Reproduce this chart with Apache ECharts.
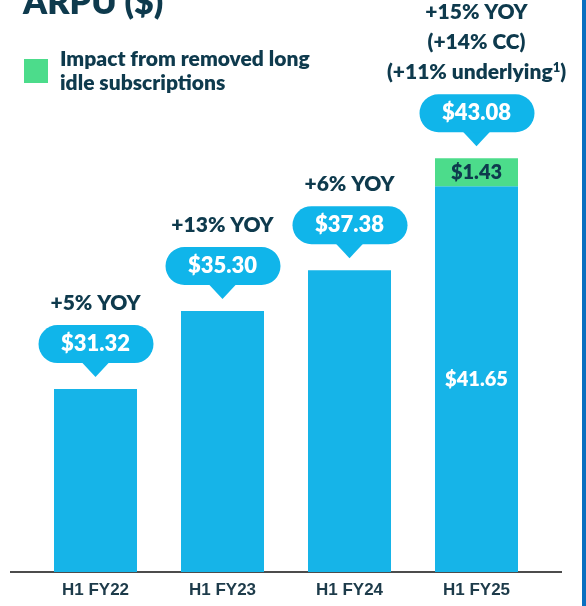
<!DOCTYPE html>
<html>
<head>
<meta charset="utf-8">
<script src="https://cdn.jsdelivr.net/npm/echarts@6/dist/echarts.min.js"></script>
<style>
  html, body { margin: 0; padding: 0; background: #fff; }
  #chart { width: 586px; height: 606px; }
</style>
</head>
<body>
<div id="chart"></div>
<script>
// data
var categories = ['H1 FY22', 'H1 FY23', 'H1 FY24', 'H1 FY25'];
var baseArpu = [31.32, 35.30, 37.38, 41.65];
var idleImpact = [null, null, null, 1.43];
var totalArpu = [31.32, 35.30, 37.38, 43.08];
var yoyLines = [
  ['+5% YOY'],
  ['+13% YOY'],
  ['+6% YOY'],
  ['+15% YOY', '(+14% CC)', '(+11% underlying{sup|1})']
];

var navy = '#0e3a4d';
var blue = '#16b4e8';
var bubble = '#10b5ea';
var green = '#4cdc8b';
var font = 'Lato';
var heavy = 800;

//callout bubble + yoy text above each bar
function renderCallout(params, api) {
  var i = api.value(0);
  var val = api.value(1);
  var p = api.coord([i, val]);
  var x = p[0], y = p[1];
  var kids = [
    { type: 'polygon', shape: { points: [[x - 14, y - 27], [x + 14, y - 27], [x, y - 12]] }, style: { fill: bubble } },
    { type: 'rect', shape: { x: x - 57, y: y - 64, width: 115, height: 38, r: 19 }, style: { fill: bubble } },
    { type: 'text', style: { x: x, y: y - 45, text: '$' + val.toFixed(2), align: 'center', verticalAlign: 'middle',
        fill: '#fff', font: heavy + ' 22px ' + font } }
  ];
  var lines = yoyLines[i];
  for (var k = 0; k < lines.length; k++) {
    kids.push({ type: 'text', style: {
      x: x, y: y - 86 - 30 * (lines.length - 1 - k), text: lines[k], align: 'center', verticalAlign: 'middle',
      fill: navy, font: heavy + ' 21px ' + font,
      rich: { sup: { fontSize: 13, fontWeight: heavy, fontFamily: font, fill: navy, verticalAlign: 'top', padding: [0, 0, 8, 0] } }
    } });
  }
  return { type: 'group', children: kids };
}

var chart = echarts.init(document.getElementById('chart'));
chart.setOption({
  animation: false,
  title: {
    text: 'ARPU ($)', left: 18, top: -19,
    textStyle: { fontFamily: font, fontWeight: heavy, fontSize: 34, color: navy }
  },
  legend: {
    data: ['Impact from removed long\nidle subscriptions'],
    left: 19, top: 42, icon: 'rect', itemWidth: 24, itemHeight: 24, itemGap: 12,
    textStyle: { fontFamily: font, fontWeight: heavy, fontSize: 21, color: navy, lineHeight: 24, padding: [0, 0, 0, 7] }
  },
  grid: { left: 32, right: 46, top: 101, bottom: 34 },
  xAxis: {
    type: 'category', data: categories,
    axisLine: { show: false }, axisTick: { show: false },
    axisLabel: { fontFamily: 'Liberation Sans', fontWeight: 'bold', fontSize: 17, color: '#1d3b4a', margin: 10 }
  },
  yAxis: { type: 'value', min: 22, max: 46, show: false, splitLine: { show: false } },
  series: [
    {
      name: 'ARPU', type: 'bar', stack: 'a', data: baseArpu, barWidth: 83,
      itemStyle: { color: blue },
      label: {
        show: true, position: 'inside', color: '#fff', fontFamily: font, fontWeight: heavy, fontSize: 20,
        formatter: function (p) { return p.dataIndex === 3 ? '$' + p.value.toFixed(2) : ''; }
      }
    },
    {
      name: 'Impact from removed long\nidle subscriptions', type: 'bar', stack: 'a', data: idleImpact, barWidth: 83,
      itemStyle: { color: green },
      label: {
        show: true, position: 'inside', color: navy, fontFamily: font, fontWeight: heavy, fontSize: 20,
        formatter: function (p) { return '$' + p.value.toFixed(2); }
      }
    },
    {
      name: 'callout', type: 'custom', renderItem: renderCallout,
      data: totalArpu.map(function (v, i) { return [i, v]; }),
      z: 5, silent: true
    }
  ],
  graphic: [
    { type: 'line', shape: { x1: 10, y1: 572, x2: 562, y2: 572 }, style: { stroke: '#111', lineWidth: 1.5 } },
    { type: 'rect', shape: { x: 582, y: 0, width: 4, height: 606 }, style: { fill: '#0a6fc0' } }
  ]
});
</script>
</body>
</html>
